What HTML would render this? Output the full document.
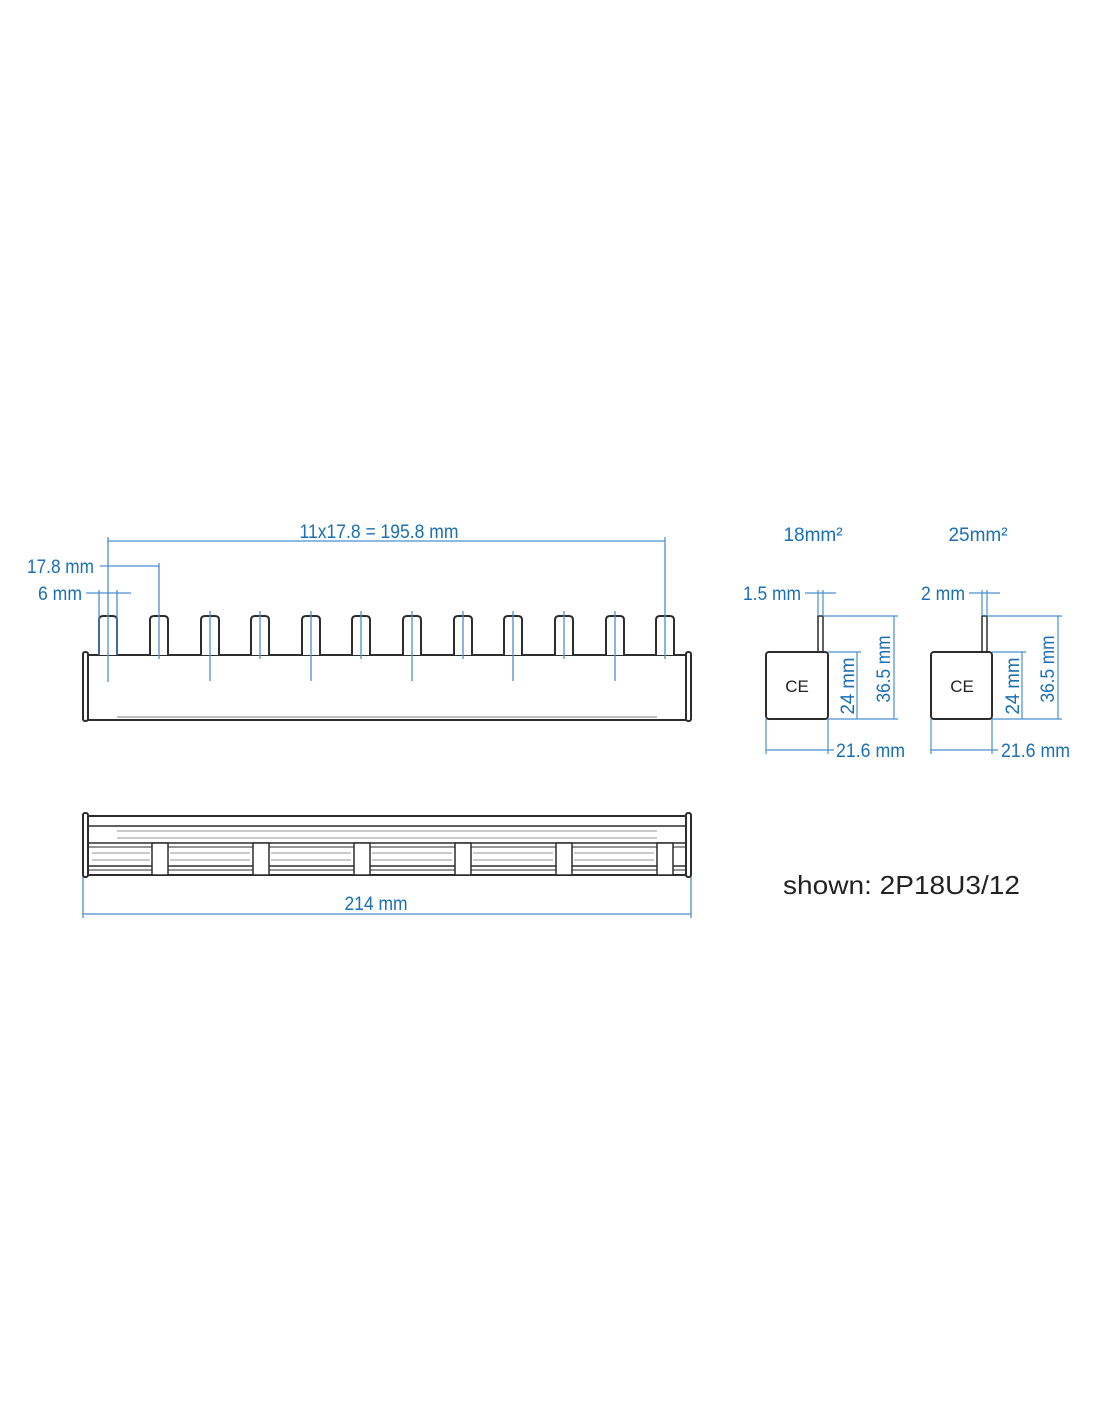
<!DOCTYPE html>
<html><head><meta charset="utf-8"><style>
html,body{margin:0;padding:0;background:#fff;}
svg{display:block;}
text{font-family:"Liberation Sans",sans-serif;}
.b{fill:#1a6fb5;font-size:19px;}
</style></head><body>
<svg width="1100" height="1422" viewBox="0 0 1100 1422" xmlns="http://www.w3.org/2000/svg">
<defs>
<marker id="ar" markerWidth="8" markerHeight="6" refX="8" refY="3" orient="auto" markerUnits="userSpaceOnUse"><path d="M0,0 L8,3 L0,6" fill="none" stroke="#4a8fd0" stroke-width="1"/></marker>
</defs>
<g stroke="#2d2d2d" stroke-width="2" fill="none">
<!-- top bar -->
<line x1="87" y1="655" x2="687" y2="655"/>
<line x1="87" y1="720" x2="687" y2="720"/>
<rect x="83" y="652" width="5" height="69" rx="2"/>
<rect x="686" y="652" width="5" height="69" rx="2"/>
</g>
<line x1="117" y1="717" x2="657" y2="717" stroke="#aaa" stroke-width="1.5"/>
<g stroke="#2d2d2d" stroke-width="2" fill="#fff">
<path d="M99,655 V620 q0,-4 4,-4 h10 q4,0 4,4 V655"/>
<path d="M150,655 V620 q0,-4 4,-4 h10 q4,0 4,4 V655"/>
<path d="M201,655 V620 q0,-4 4,-4 h10 q4,0 4,4 V655"/>
<path d="M251,655 V620 q0,-4 4,-4 h10 q4,0 4,4 V655"/>
<path d="M302,655 V620 q0,-4 4,-4 h10 q4,0 4,4 V655"/>
<path d="M352,655 V620 q0,-4 4,-4 h10 q4,0 4,4 V655"/>
<path d="M403,655 V620 q0,-4 4,-4 h10 q4,0 4,4 V655"/>
<path d="M454,655 V620 q0,-4 4,-4 h10 q4,0 4,4 V655"/>
<path d="M504,655 V620 q0,-4 4,-4 h10 q4,0 4,4 V655"/>
<path d="M555,655 V620 q0,-4 4,-4 h10 q4,0 4,4 V655"/>
<path d="M606,655 V620 q0,-4 4,-4 h10 q4,0 4,4 V655"/>
<path d="M656,655 V620 q0,-4 4,-4 h10 q4,0 4,4 V655"/>
</g>
<g stroke="#4a8fd0" stroke-width="1.3">
<line x1="108" y1="537" x2="108" y2="682"/>
<line x1="159" y1="563" x2="159" y2="659"/>
<line x1="210" y1="611" x2="210" y2="681"/>
<line x1="260" y1="611" x2="260" y2="659"/>
<line x1="311" y1="611" x2="311" y2="681"/>
<line x1="361" y1="611" x2="361" y2="659"/>
<line x1="412" y1="611" x2="412" y2="681"/>
<line x1="463" y1="611" x2="463" y2="659"/>
<line x1="513" y1="611" x2="513" y2="681"/>
<line x1="564" y1="611" x2="564" y2="659"/>
<line x1="615" y1="611" x2="615" y2="681"/>
<line x1="665" y1="537" x2="665" y2="659"/>
<!-- dims -->
<line x1="108" y1="541" x2="665" y2="541"/>
<line x1="100" y1="566" x2="159" y2="566"/>
<line x1="86" y1="593" x2="131" y2="593"/>
<line x1="99" y1="590" x2="99" y2="655"/>
<line x1="117" y1="590" x2="117" y2="655"/>
<!-- 214 -->
<line x1="83" y1="876" x2="83" y2="918"/>
<line x1="691" y1="876" x2="691" y2="918"/>
<line x1="83" y1="914" x2="691" y2="914"/>
</g>
<text class="b" x="379" y="538" text-anchor="middle" textLength="159" lengthAdjust="spacingAndGlyphs">11x17.8 = 195.8 mm</text>
<text class="b" x="94" y="573" text-anchor="end" textLength="67" lengthAdjust="spacingAndGlyphs">17.8 mm</text>
<text class="b" x="82" y="600" text-anchor="end" textLength="44" lengthAdjust="spacingAndGlyphs">6 mm</text>
<text class="b" x="376" y="910" text-anchor="middle" textLength="63" lengthAdjust="spacingAndGlyphs">214 mm</text>

<!-- bottom bar -->
<g stroke="#2d2d2d" fill="none">
<line x1="87" y1="816" x2="687" y2="816" stroke-width="2"/>
<line x1="87" y1="875" x2="687" y2="875" stroke-width="2"/>
<line x1="87" y1="826" x2="687" y2="826" stroke-width="1.5"/>
<line x1="87" y1="843" x2="687" y2="843" stroke-width="1.5"/>
<line x1="87" y1="847" x2="687" y2="847" stroke-width="1"/>
<line x1="87" y1="866" x2="687" y2="866" stroke-width="1.5"/>
<line x1="87" y1="870" x2="687" y2="870" stroke-width="1"/>
<rect x="83" y="813" width="5" height="64" rx="2" stroke-width="2"/>
<rect x="686" y="813" width="5" height="64" rx="2" stroke-width="2"/>
</g>
<g stroke="#aaa" stroke-width="1.3">
<line x1="117" y1="831" x2="657" y2="831"/>
<line x1="117" y1="838" x2="657" y2="838"/>
<line x1="92" y1="853" x2="150" y2="853"/><line x1="92" y1="860" x2="150" y2="860"/>
<line x1="170" y1="853" x2="250" y2="853"/><line x1="170" y1="860" x2="250" y2="860"/>
<line x1="271" y1="853" x2="351" y2="853"/><line x1="271" y1="860" x2="351" y2="860"/>
<line x1="372" y1="853" x2="452" y2="853"/><line x1="372" y1="860" x2="452" y2="860"/>
<line x1="473" y1="853" x2="553" y2="853"/><line x1="473" y1="860" x2="553" y2="860"/>
<line x1="574" y1="853" x2="654" y2="853"/><line x1="574" y1="860" x2="654" y2="860"/>
</g>
<g stroke="#2d2d2d" stroke-width="1.5" fill="#fff">
<rect x="152" y="843" width="16" height="32"/>
<rect x="253" y="843" width="16" height="32"/>
<rect x="354" y="843" width="16" height="32"/>
<rect x="455" y="843" width="16" height="32"/>
<rect x="556" y="843" width="16" height="32"/>
<rect x="657" y="843" width="16" height="32"/>
</g>

<!-- side view 1 -->
<rect x="766" y="652" width="62" height="67" rx="3" fill="none" stroke="#2d2d2d" stroke-width="2"/>
<rect x="818" y="616" width="5" height="36" fill="none" stroke="#2d2d2d" stroke-width="1.5"/>
<text x="797" y="692" text-anchor="middle" font-size="17" fill="#222">CE</text>
<g stroke="#4a8fd0" stroke-width="1.2">
<line x1="805" y1="593" x2="836" y2="593"/>
<line x1="818" y1="590" x2="818" y2="616"/>
<line x1="823" y1="590" x2="823" y2="616"/>
<line x1="823" y1="616" x2="898" y2="616"/>
<line x1="828" y1="652" x2="861" y2="652"/>
<line x1="828" y1="719" x2="898" y2="719"/>
<line x1="857" y1="652" x2="857" y2="719"/>
<line x1="894" y1="616" x2="894" y2="719"/>
<line x1="766" y1="719" x2="766" y2="754"/>
<line x1="828" y1="719" x2="828" y2="754"/>
<line x1="766" y1="750" x2="834" y2="750"/>
</g>
<text class="b" x="801" y="600" text-anchor="end" textLength="58" lengthAdjust="spacingAndGlyphs">1.5 mm</text>
<text class="b" x="836" y="757" textLength="69" lengthAdjust="spacingAndGlyphs">21.6 mm</text>
<text class="b" transform="translate(854,686) rotate(-90)" text-anchor="middle" textLength="57" lengthAdjust="spacingAndGlyphs">24 mm</text>
<text class="b" transform="translate(890,669) rotate(-90)" text-anchor="middle" textLength="67" lengthAdjust="spacingAndGlyphs">36.5 mm</text>
<text class="b" x="813" y="541" text-anchor="middle" font-size="18">18mm²</text>

<!-- side view 2 -->
<rect x="931" y="652" width="61" height="67" rx="3" fill="none" stroke="#2d2d2d" stroke-width="2"/>
<rect x="982" y="616" width="5" height="36" fill="none" stroke="#2d2d2d" stroke-width="1.5"/>
<text x="962" y="692" text-anchor="middle" font-size="17" fill="#222">CE</text>
<g stroke="#4a8fd0" stroke-width="1.2">
<line x1="969" y1="593" x2="1000" y2="593"/>
<line x1="982" y1="590" x2="982" y2="616"/>
<line x1="987" y1="590" x2="987" y2="616"/>
<line x1="987" y1="616" x2="1062" y2="616"/>
<line x1="992" y1="652" x2="1026" y2="652"/>
<line x1="992" y1="719" x2="1062" y2="719"/>
<line x1="1022" y1="652" x2="1022" y2="719"/>
<line x1="1058" y1="616" x2="1058" y2="719"/>
<line x1="931" y1="719" x2="931" y2="754"/>
<line x1="992" y1="719" x2="992" y2="754"/>
<line x1="931" y1="750" x2="998" y2="750"/>
</g>
<text class="b" x="965" y="600" text-anchor="end" textLength="44" lengthAdjust="spacingAndGlyphs">2 mm</text>
<text class="b" x="1001" y="757" textLength="69" lengthAdjust="spacingAndGlyphs">21.6 mm</text>
<text class="b" transform="translate(1019,686) rotate(-90)" text-anchor="middle" textLength="57" lengthAdjust="spacingAndGlyphs">24 mm</text>
<text class="b" transform="translate(1054,669) rotate(-90)" text-anchor="middle" textLength="67" lengthAdjust="spacingAndGlyphs">36.5 mm</text>
<text class="b" x="978" y="541" text-anchor="middle" font-size="18">25mm²</text>

<text x="783" y="894" font-size="26" fill="#222" textLength="237" lengthAdjust="spacingAndGlyphs">shown: 2P18U3/12</text>
</svg>
</body></html>
